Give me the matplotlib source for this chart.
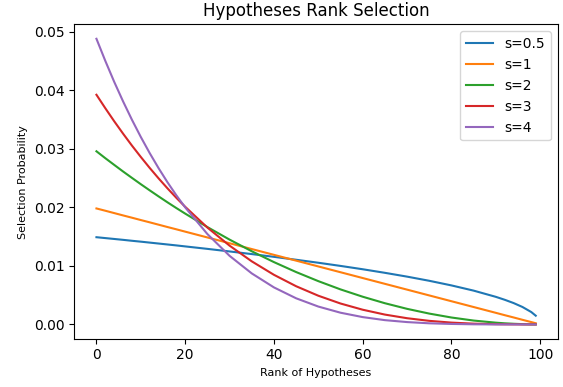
import numpy as np
import matplotlib
matplotlib.use("Agg")
import matplotlib.pyplot as plt

# ── Data ──────────────────────────────────────────────────────────────────
rank = [0, 2, 4, 6, 8, 10, 12, 14, 16, 18, 20, 25, 30, 35, 40, 45, 50,
        55, 60, 65, 70, 75, 80, 85, 90, 92, 94, 96, 98, 99]

p_s05 = [0.01489, 0.01474, 0.01459, 0.01444, 0.01428, 0.01413, 0.01397,
         0.01381, 0.01365, 0.01349, 0.01332, 0.01290, 0.01246, 0.01201,
         0.01154, 0.01104, 0.01053, 0.00999, 0.00942, 0.00881, 0.00816,
         0.00745, 0.00666, 0.00577, 0.00471, 0.00421, 0.00365, 0.00298,
         0.00211, 0.00149]
p_s1 = [0.01980, 0.01941, 0.01901, 0.01861, 0.01822, 0.01782, 0.01743,
        0.01703, 0.01663, 0.01624, 0.01584, 0.01485, 0.01386, 0.01287,
        0.01188, 0.01089, 0.00990, 0.00891, 0.00792, 0.00693, 0.00594,
        0.00495, 0.00396, 0.00297, 0.00198, 0.00158, 0.00119, 0.00079,
        0.00040, 0.00020]
p_s2 = [0.02956, 0.02838, 0.02724, 0.02611, 0.02502, 0.02394, 0.02289,
        0.02186, 0.02085, 0.01987, 0.01892, 0.01662, 0.01448, 0.01249,
        0.01064, 0.00894, 0.00739, 0.00598, 0.00473, 0.00362, 0.00266,
        0.00185, 0.00118, 0.00066, 0.00030, 0.00019, 0.00011, 0.00005,
        0.00001, 0.00000]
p_s3 = [0.03921, 0.03691, 0.03469, 0.03257, 0.03053, 0.02859, 0.02672,
        0.02494, 0.02324, 0.02162, 0.02008, 0.01654, 0.01345, 0.01077,
        0.00847, 0.00652, 0.00490, 0.00357, 0.00251, 0.00168, 0.00106,
        0.00061, 0.00031, 0.00013, 0.00004, 0.00002, 0.00001, 0.00000,
        0.00000, 0.00000]
p_s4 = [0.04877, 0.04499, 0.04142, 0.03808, 0.03494, 0.03200, 0.02925,
        0.02668, 0.02428, 0.02205, 0.01998, 0.01543, 0.01171, 0.00871,
        0.00632, 0.00446, 0.00305, 0.00200, 0.00125, 0.00073, 0.00040,
        0.00019, 0.00008, 0.00002, 0.00000, 0.00000, 0.00000, 0.00000,
        0.00000, 0.00000]

labels = ["s=0.5", "s=1", "s=2", "s=3", "s=4"]
series = [p_s05, p_s1, p_s2, p_s3, p_s4]

# ── Plot ───────────────────────────────────────────────────────────────────
fig, ax = plt.subplots(figsize=(5.63, 3.87), dpi=100)
fig.subplots_adjust(left=0.1323, right=0.9906, top=0.9367, bottom=0.1248)

for lab, vals in zip(labels, series):
    ax.plot(rank, vals, label=lab, linewidth=1.5)

ax.set_title("Hypotheses Rank Selection", fontsize=12)
ax.set_xlabel("Rank of Hypotheses", fontsize=8)
ax.set_ylabel("Selection Probability", fontsize=8)
ax.legend(loc="upper right")

fig.savefig("out.png", dpi=100)
